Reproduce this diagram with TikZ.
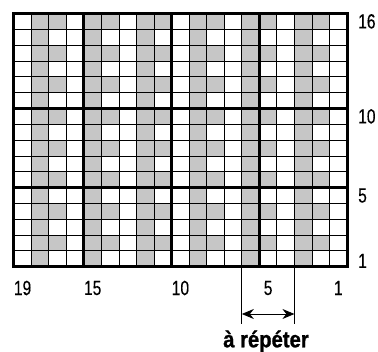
\documentclass[tikz,border=0pt]{standalone}
\usepackage{fontspec}
\setmainfont{Liberation Sans}
\newfontfamily\numfont[FakeStretch=0.76,FakeBold=0.3]{Liberation Sans}
\newfontfamily\repfont[FakeStretch=0.88,FakeBold=1]{Liberation Sans Bold}
\usetikzlibrary{arrows.meta}
\definecolor{cellgray}{RGB}{198,198,198}
\tikzset{
  thinline/.style={line width=0.9pt, black},
  thickline/.style={line width=3pt, black, line cap=rect},
  numlabel/.style={font=\numfont\fontsize{20.5}{20}\selectfont, inner sep=0pt},
  guideline/.style={line width=0.8pt, black},
  repeatarrow/.style={line width=0.8pt, black, {Stealth[length=12pt,width=10pt]}-{Stealth[length=12pt,width=10pt]}},
}
\begin{document}
\begin{tikzpicture}[x=1pt,y=-1pt]
\useasboundingbox (0,0) rectangle (378,352);
\def\cw{17.54}
\def\ch{15.83}
\def\ox{13.8}
\def\oy{13.5}
% cells
\foreach \c in {0,...,18} {
  \foreach \r in {0,...,15} {
    \pgfmathtruncatemacro\m{mod(\c,3)}
    \pgfmathtruncatemacro\e{mod(\r,2)}
    \ifnum\m=1
      \fill[cellgray] (\ox+\c*\cw,\oy+\r*\ch) rectangle ++(\cw,\ch);
    \else\ifnum\m=2 \ifnum\e=0
      \fill[cellgray] (\ox+\c*\cw,\oy+\r*\ch) rectangle ++(\cw,\ch);
    \fi\fi\fi
  }
}
% thin grid
\foreach \c in {0,...,19} \draw[thinline] (\ox+\c*\cw,\oy) -- ++(0,16*\ch);
\foreach \r in {0,...,16} \draw[thinline] (\ox,\oy+\r*\ch) -- ++(19*\cw,0);
% thick grid
\foreach \c in {0,4,9,14,19} \draw[thickline] (\ox+\c*\cw,\oy) -- ++(0,16*\ch);
\foreach \r in {0,6,11,16} \draw[thickline] (\ox,\oy+\r*\ch) -- ++(19*\cw,0);
% bottom labels
\node[numlabel] (c19) at (\ox+0.5*\cw,288) {19};
\node[numlabel] (c15) at (\ox+4.5*\cw,288) {15};
\node[numlabel] (c10) at (\ox+9.5*\cw,288) {10};
\node[numlabel] (c5) at (\ox+14.5*\cw,288) {5};
\node[numlabel] (c1) at (\ox+18.5*\cw,288) {1};
% right labels
\node[numlabel,anchor=west] (r16) at (358,\oy+0.5*\ch) {16};
\node[numlabel,anchor=west] (r10) at (358,\oy+6.5*\ch) {10};
\node[numlabel,anchor=west] (r5) at (358,\oy+11.5*\ch) {5};
\node[numlabel,anchor=west] (r1) at (358,\oy+15.5*\ch+2) {1};
% repeat marker
\coordinate (gl) at (\ox+13*\cw,\oy+16*\ch);
\coordinate (gr) at (\ox+16*\cw,\oy+16*\ch);
\coordinate (el) at (\ox+13*\cw,324);
\coordinate (er) at (\ox+16*\cw,324);
\coordinate (al) at (\ox+13*\cw,314);
\coordinate (ar) at (\ox+16*\cw,314);
\draw[guideline] (gl) -- (el);
\draw[guideline] (gr) -- (er);
\draw[repeatarrow] (al) -- (ar);
\node[font=\repfont\fontsize{23}{23}\selectfont, inner sep=0pt, anchor=base] (rep) at (266,347.3) {à répéter};
\end{tikzpicture}
\end{document}
